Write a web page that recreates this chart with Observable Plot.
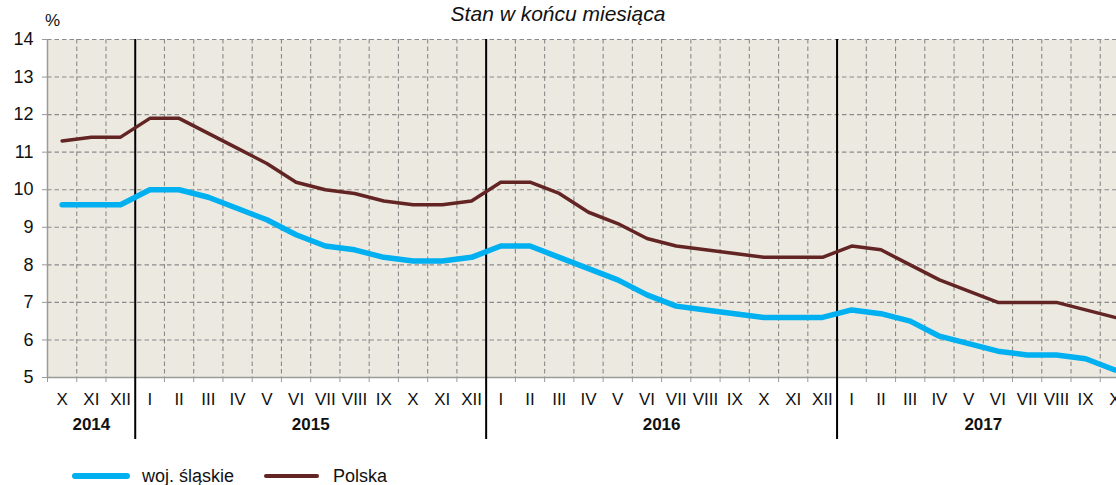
<!DOCTYPE html>
<html><head><meta charset="utf-8">
<script src="https://cdn.jsdelivr.net/npm/d3@7"></script>
<script src="https://cdn.jsdelivr.net/npm/@observablehq/plot@0.6"></script>
<style>
html,body{margin:0;padding:0;background:#fff;overflow:hidden;width:1116px;height:485px}
#wrap{position:relative;width:1116px;height:485px;font-family:"Liberation Sans",Arial,sans-serif;overflow:hidden}
#chart{position:absolute;left:0;top:0;width:1129px;height:485px}
#chart svg{max-width:none !important;width:1129px;height:485px}
.title{position:absolute;left:0;width:1116px;top:1px;text-align:center;font-style:italic;font-size:21px;line-height:25px;color:#111}
.unit{position:absolute;left:45px;top:11px;font-size:17px;line-height:20px;color:#111}
.leg{position:absolute;top:464px;height:24px;font-size:18px;line-height:24px;color:#111;white-space:nowrap}
.sw{position:absolute;border-radius:4px}
</style></head><body><div id="wrap"><div id="chart"></div></div>
<script>
const years = ["2014", "2015", "2016", "2017"];
const yearMonths = [
  ["X", "XI", "XII"],
  ["I", "II", "III", "IV", "V", "VI", "VII", "VIII", "IX", "X", "XI", "XII"],
  ["I", "II", "III", "IV", "V", "VI", "VII", "VIII", "IX", "X", "XI", "XII"],
  ["I", "II", "III", "IV", "V", "VI", "VII", "VIII", "IX", "X"]
];
const slaskie = [
  9.6, 9.6, 9.6,
  10.0, 10.0, 9.8, 9.5, 9.2, 8.8, 8.5, 8.4, 8.2, 8.1, 8.1, 8.2,
  8.5, 8.5, 8.2, 7.9, 7.6, 7.2, 6.9, 6.8, 6.7, 6.6, 6.6, 6.6,
  6.8, 6.7, 6.5, 6.1, 5.9, 5.7, 5.6, 5.6, 5.5, 5.2
];
const polska = [
  11.3, 11.4, 11.4,
  11.9, 11.9, 11.5, 11.1, 10.7, 10.2, 10.0, 9.9, 9.7, 9.6, 9.6, 9.7,
  10.2, 10.2, 9.9, 9.4, 9.1, 8.7, 8.5, 8.4, 8.3, 8.2, 8.2, 8.2,
  8.5, 8.4, 8.0, 7.6, 7.3, 7.0, 7.0, 7.0, 6.8, 6.6
];
const yTicks = [5, 6, 7, 8, 9, 10, 11, 12, 13, 14];
const seriesNames = ["woj. śląskie", "Polska"];
const seriesColors = ["#00B0F0", "#632523"];

const monthLabels = yearMonths.flat();
const n = monthLabels.length;
const idx = d3.range(n);
const rows = idx.flatMap(i => [
  {i, v: slaskie[i], s: seriesNames[0]},
  {i, v: polska[i], s: seriesNames[1]}
]);
let start = 0;
const yearRows = years.map((y, k) => {
  const len = yearMonths[k].length;
  const r = {year: y, start, center: start + (len - 1) / 2};
  start += len;
  return r;
});
const yearBounds = yearRows.slice(1).map(r => r.start - 0.5);
const allBounds = d3.range(n + 1).map(k => k - 0.5);
const innerBounds = allBounds.filter(b => b > -0.5 && !yearBounds.includes(b));

const gridStyle = {stroke: "#8a8a8a", strokeDasharray: "4.5,3", strokeWidth: 1.1};

const chart = Plot.plot({
  width: 1129, height: 485,
  marginLeft: 47, marginRight: 0, marginTop: 39, marginBottom: 108,
  x: {type: "linear", domain: [-0.5, n - 0.5], axis: null, label: null},
  y: {domain: [5, 14], axis: null, label: null},
  style: {fontFamily: "'Liberation Sans', Arial, sans-serif", fontSize: "17px", background: "transparent", overflow: "visible", color: "#111", maxWidth: "none"},
  marks: [
    Plot.frame({fill: "#ECE9E1", stroke: null}),
    Plot.ruleY(yTicks.slice(1), gridStyle),
    Plot.ruleX(innerBounds, gridStyle),
    Plot.ruleY([5], {stroke: "#9a9a9a", strokeWidth: 1.5}),
    Plot.ruleX([-0.5], {stroke: "#9a9a9a", strokeWidth: 1.5}),
    Plot.axisY({ticks: yTicks, tickSize: 5, tickPadding: 9, stroke: "#9a9a9a", fill: "#111", fontSize: 18, label: null}),
    Plot.axisX({ticks: allBounds, tickSize: 5, tickFormat: () => "", stroke: "#9a9a9a", label: null}),
    Plot.axisX({ticks: idx, tickSize: 0, tickPadding: 15, tickFormat: i => monthLabels[i], fill: "#111", fontSize: 17, label: null}),
    Plot.text(yearRows, {x: "center", text: "year", frameAnchor: "bottom", dy: 52, fontWeight: "bold", fontSize: 17, fill: "#111"}),
    Plot.ruleX(yearBounds, {stroke: "#000", strokeWidth: 2, insetBottom: -62}),
    Plot.lineY(rows.filter(d => d.s === seriesNames[0]), {x: "i", y: "v", stroke: seriesColors[0], strokeWidth: 5.5, strokeLinejoin: "round", strokeLinecap: "round"}),
    Plot.lineY(rows.filter(d => d.s === seriesNames[1]), {x: "i", y: "v", stroke: seriesColors[1], strokeWidth: 3.5, strokeLinejoin: "round", strokeLinecap: "round"})
  ]
});
const wrap = document.getElementById("wrap");
document.getElementById("chart").appendChild(chart);

const t = document.createElement("div"); t.className = "title"; t.textContent = "Stan w końcu miesiąca"; wrap.appendChild(t);
const u = document.createElement("div"); u.className = "unit"; u.textContent = "%"; wrap.appendChild(u);

const legPos = [{sw: 72, w: 58, h: 6, tx: 142}, {sw: 264, w: 55, h: 4, tx: 333}];
seriesNames.forEach((name, k) => {
  const p = legPos[k];
  const sw = document.createElement("div");
  sw.className = "sw";
  sw.style.left = p.sw + "px"; sw.style.width = p.w + "px";
  sw.style.height = p.h + "px"; sw.style.top = (476 - p.h / 2) + "px";
  sw.style.background = seriesColors[k];
  wrap.appendChild(sw);
  const tx = document.createElement("div");
  tx.className = "leg"; tx.style.left = p.tx + "px"; tx.textContent = name;
  wrap.appendChild(tx);
});
</script></body></html>
